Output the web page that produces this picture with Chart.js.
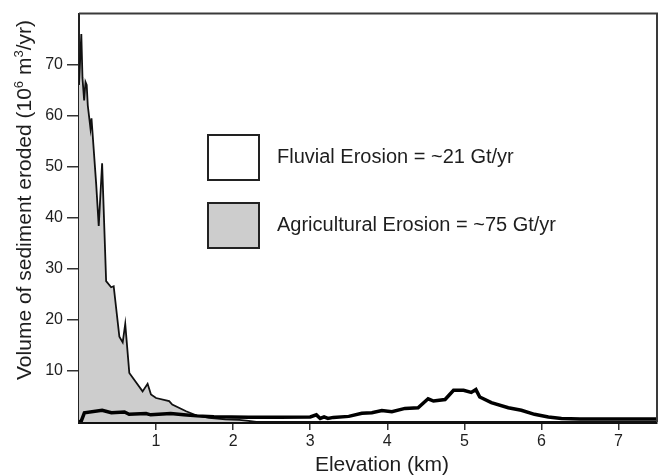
<!DOCTYPE html>
<html>
<head>
<meta charset="utf-8">
<script src="https://cdn.jsdelivr.net/npm/chart.js@4/dist/chart.umd.min.js"></script>
<style>
  html, body { margin: 0; padding: 0; background: #fff; }
  #wrap { width: 664px; height: 475px; }
</style>
</head>
<body>
<div id="wrap"><canvas id="erosionChart" width="664" height="475"></canvas></div>
<script>
// elevation (km) / volume (10^6 m3/yr)
const agriKm = [0, 0.03, 0.045, 0.067, 0.084, 0.1, 0.114, 0.136, 0.149, 0.162, 0.223, 0.256, 0.30, 0.352, 0.417, 0.45, 0.524, 0.567, 0.60, 0.653, 0.74, 0.825, 0.89, 0.934, 1.0, 1.17, 1.21, 1.39, 1.52, 1.69, 1.9, 2.08, 2.2, 2.3];
const agriVol = [66, 76, 67.4, 63, 66.6, 66, 62, 59.2, 57.5, 59.5, 46.6, 38.4, 50.7, 27.6, 26.4, 26.6, 16.7, 15.6, 19.2, 9.6, 7.8, 6.0, 7.5, 5.4, 4.7, 4.1, 3.4, 2.1, 1.3, 0.8, 0.5, 0.4, 0.2, 0];

const fluvKm = [0, 0.03, 0.07, 0.30, 0.42, 0.59, 0.65, 0.87, 0.93, 1.19, 1.36, 1.53, 1.75, 2.2, 2.6, 3.0, 3.08, 3.13, 3.18, 3.23, 3.3, 3.5, 3.67, 3.8, 3.93, 4.06, 4.23, 4.40, 4.53, 4.60, 4.75, 4.86, 4.99, 5.09, 5.15, 5.20, 5.35, 5.57, 5.74, 5.91, 6.09, 6.26, 6.5, 7.0, 7.5];
const fluvVol = [0, 0.2, 1.8, 2.3, 1.8, 1.95, 1.5, 1.65, 1.4, 1.65, 1.4, 1.2, 1.05, 0.95, 0.95, 1.0, 1.4, 0.7, 1.0, 0.7, 0.9, 1.1, 1.7, 1.8, 2.25, 2.0, 2.66, 2.8, 4.55, 4.1, 4.4, 6.2, 6.2, 5.8, 6.35, 4.9, 3.8, 2.8, 2.3, 1.5, 1.0, 0.7, 0.6, 0.6, 0.6];

const xTickVals = [1, 2, 3, 4, 5, 6, 7];
const yTickVals = [10, 20, 30, 40, 50, 60, 70];

const legendItems = [
  { label: 'Fluvial Erosion = ~21 Gt/yr', fill: '#ffffff' },
  { label: 'Agricultural Erosion = ~75 Gt/yr', fill: '#cdcdcd' }
];

const FONT = '"Liberation Sans", Arial, Helvetica, sans-serif';
const INK = '#1e1e1e';

const toPoints = (xs, ys) => xs.map((x, i) => ({ x: x, y: ys[i] }));

// frame, legend and axis titles
const decorPlugin = {
  id: 'decor',
  afterDraw(chart) {
    const ctx = chart.ctx;
    const a = chart.chartArea;
    ctx.save();

    // top + right frame lines
    ctx.strokeStyle = '#3a3a3a';
    ctx.lineWidth = 2;
    ctx.beginPath();
    ctx.moveTo(a.left, a.top);
    ctx.lineTo(a.right, a.top);
    ctx.lineTo(a.right, a.bottom);
    ctx.stroke();

    // legend boxes
    ctx.font = '20px ' + FONT;
    ctx.textBaseline = 'middle';
    ctx.fillStyle = INK;
    legendItems.forEach((item, i) => {
      const bx = 208, by = 135 + i * 68, bw = 51, bh = 45;
      ctx.fillStyle = item.fill;
      ctx.fillRect(bx, by, bw, bh);
      ctx.strokeStyle = '#222';
      ctx.lineWidth = 2;
      ctx.strokeRect(bx, by, bw, bh);
      ctx.fillStyle = INK;
      ctx.fillText(item.label, 277, by + bh / 2);
    });

    // x title
    ctx.font = '21px ' + FONT;
    ctx.textAlign = 'center';
    ctx.textBaseline = 'alphabetic';
    ctx.fillText('Elevation (km)', 382, 471);

    // y title with superscripts
    const parts = [
      ['Volume of sediment eroded (10', false],
      ['6', true],
      [' m', false],
      ['3', true],
      ['/yr)', false]
    ];
    const big = '21px ' + FONT, small = '13px ' + FONT;
    let total = 0;
    parts.forEach(p => { ctx.font = p[1] ? small : big; total += ctx.measureText(p[0]).width; });
    ctx.translate(31, 200);
    ctx.rotate(-Math.PI / 2);
    ctx.textAlign = 'left';
    let px = -total / 2;
    parts.forEach(p => {
      ctx.font = p[1] ? small : big;
      ctx.fillText(p[0], px, p[1] ? -8 : 0);
      px += ctx.measureText(p[0]).width;
    });
    ctx.restore();
  }
};

new Chart(document.getElementById('erosionChart'), {
  type: 'line',
  data: {
    datasets: [
      {
        label: 'Fluvial Erosion',
        data: toPoints(fluvKm, fluvVol),
        borderColor: '#000',
        borderWidth: 3.5,
        fill: false,
        pointRadius: 0,
        tension: 0,
        order: 0
      },
      {
        label: 'Agricultural Erosion',
        data: toPoints(agriKm, agriVol),
        borderColor: '#111',
        backgroundColor: '#cdcdcd',
        borderWidth: 1.8,
        fill: 'origin',
        pointRadius: 0,
        tension: 0,
        order: 1
      }
    ]
  },
  options: {
    responsive: false,
    animation: false,
    devicePixelRatio: 1,
    layout: { padding: { top: 11, right: 7, left: 0, bottom: 0 } },
    plugins: { legend: { display: false }, tooltip: { enabled: false } },
    scales: {
      x: {
        type: 'linear',
        min: 0,
        max: 7.5,
        afterBuildTicks: s => { s.ticks = xTickVals.map(v => ({ value: v })); },
        afterFit: s => { s.height = 53; },
        grid: { drawOnChartArea: false, drawTicks: true, tickLength: 8, color: '#333', lineWidth: 1.5 },
        border: { display: true, color: '#111', width: 3 },
        ticks: { color: INK, padding: 2, font: { family: FONT, size: 16 } }
      },
      y: {
        min: 0,
        max: 80,
        afterBuildTicks: s => { s.ticks = yTickVals.map(v => ({ value: v })); },
        afterFit: s => { s.width = 79; },
        grid: { drawOnChartArea: false, drawTicks: true, tickLength: 12, color: '#333', lineWidth: 1.5 },
        border: { display: true, color: '#222', width: 2 },
        ticks: { color: INK, padding: 4, font: { family: FONT, size: 16 } }
      }
    }
  },
  plugins: [decorPlugin]
});
</script>
</body>
</html>
